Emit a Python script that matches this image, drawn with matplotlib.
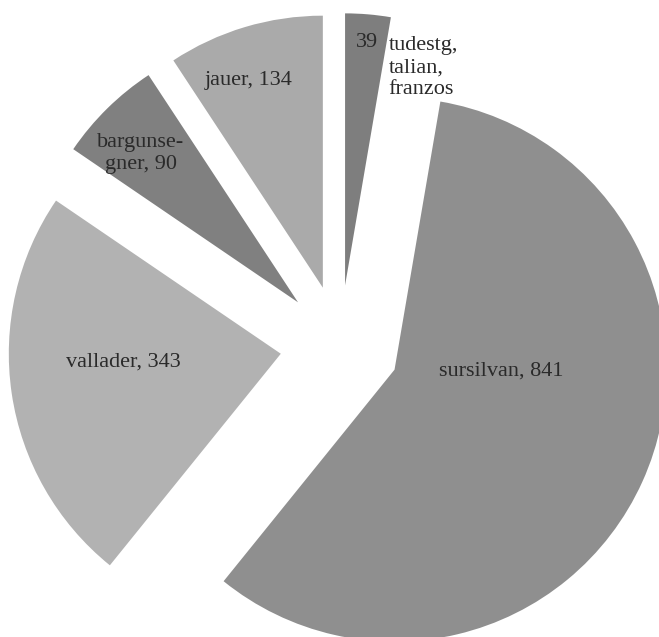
import matplotlib
matplotlib.use("Agg")
import matplotlib.pyplot as plt

# Languages and counts, clockwise from 12 o'clock
languages = ["tudestg, talian, franzos", "sursilvan", "vallader", "bargunsegner", "jauer"]
counts = [39, 841, 343, 90, 134]
colors = ["#7e7e7e", "#8f8f8f", "#b2b2b2", "#808080", "#aaaaaa"]

plt.rcParams["font.family"] = ["Liberation Serif", "DejaVu Serif"]

fig = plt.figure(figsize=(6.59, 6.37), dpi=100)
ax = fig.add_axes([0, 0, 1, 1])

wedges, _ = ax.pie(counts, colors=colors, startangle=90, counterclock=False,
                   explode=[0.22] * len(counts), radius=1.0,
                   wedgeprops=dict(linewidth=0))

# labels placed by hand like in the printed chart
txt = dict(fontsize=16, color="#2a2a2a")
ax.text(0.099, 1.112, str(counts[0]), ha="center", va="center", **txt)
ax.text(0.178, 1.02, "tudestg,\ntalian,\nfranzos", ha="left", va="center",
        linespacing=1.2, **txt)
ax.text(-0.335, 0.972, "%s, %d" % (languages[4], counts[4]), ha="center", va="center", **txt)
ax.text(-0.732, 0.705, "bargunse-\ngner, %d" % counts[3], ha="center", va="center",
        multialignment="center", linespacing=1.2, **txt)
ax.text(-0.798, -0.062, "%s, %d" % (languages[2], counts[2]), ha="center", va="center", **txt)
ax.text(0.592, -0.096, "%s, %d" % (languages[1], counts[1]), ha="center", va="center", **txt)

ax.set_xlim(-340 / 272, 319 / 272)
ax.set_ylim(-292 / 272, 345 / 272)
ax.axis("off")

fig.savefig("out.png", dpi=100)
